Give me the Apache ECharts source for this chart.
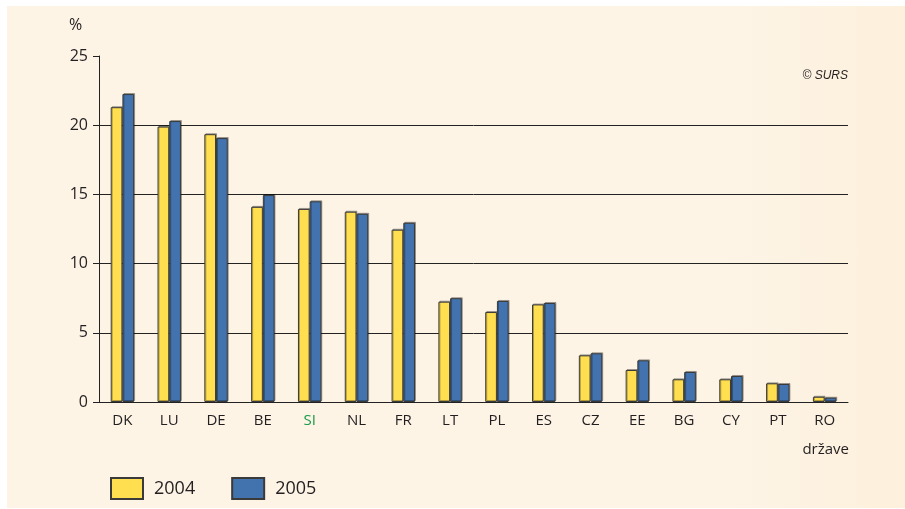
<!DOCTYPE html>
<html>
<head>
<meta charset="UTF-8">
<title>Chart</title>
<style>
    html, body { margin: 0; padding: 0; background: #fff; }
    #wrap { position: relative; width: 905px; height: 509px; }
    #bg { position: absolute; left: 7px; top: 6px; right: 0; bottom: 1px;
          background: linear-gradient(to right, #fdf4e6, #fdf4e6 80%, #fdf0dc); }
    #chart { position: absolute; left: 0; top: 0; width: 905px; height: 509px; }
</style>
</head>
<body>
<div id="wrap">
    <div id="bg"></div>
    <div id="chart"></div>
</div>
<script src="https://cdn.jsdelivr.net/npm/echarts@6/dist/echarts.min.js"></script>
<script>
    let countries = ['DK', 'LU', 'DE', 'BE', 'SI', 'NL', 'FR', 'LT', 'PL', 'ES', 'CZ', 'EE', 'BG', 'CY', 'PT', 'RO'];
    let values2004 = [21.3, 19.9, 19.35, 14.1, 13.95, 13.75, 12.45, 7.25, 6.5, 7.05, 3.37, 2.31, 1.64, 1.64, 1.35, 0.38];
    let values2005 = [22.25, 20.3, 19.07, 14.95, 14.5, 13.6, 12.95, 7.5, 7.3, 7.15, 3.52, 3.01, 2.17, 1.88, 1.3, 0.31];
    let yTicks = [0, 5, 10, 15, 20, 25];

    let font = '"Open Sans", sans-serif';
    let textColor = '#231f20';
    let chart = echarts.init(document.getElementById('chart'));

    function barSeries(name, data, color) {
        return {
            name: name,
            type: 'bar',
            data: data,
            barWidth: '25%',
            barGap: '0%',
            itemStyle: {
                color: color,
                borderColor: '#3a3a3a',
                borderWidth: 1,
                shadowColor: 'rgba(0,0,0,0.3)',
                shadowOffsetX: 1,
                shadowOffsetY: -1
            }
        };
    }

    chart.setOption({
        backgroundColor: 'transparent',
        animation: false,
        grid: { left: 99, right: 57, top: 56, bottom: 107 },
        graphic: [
            { type: 'text', left: 69, top: 17, style: { text: '%', font: '16px ' + font, fill: textColor } },
            { type: 'text', right: 57, top: 70, style: { text: '© SURS', font: 'italic 12px "Liberation Sans", sans-serif', fill: textColor } },
            { type: 'text', right: 56, top: 442, style: { text: 'države', font: '15px ' + font, fill: textColor } }
        ],
        legend: {
            left: 105,
            top: 472,
            itemWidth: 32,
            itemHeight: 21,
            itemGap: 36,
            icon: 'rect',
            textStyle: { fontFamily: font, fontSize: 18, color: textColor, padding: [0, 0, 0, 6] },
            data: ['2004', '2005']
        },
        xAxis: {
            type: 'category',
            data: countries,
            axisLine: { lineStyle: { color: '#222', width: 1 } },
            axisTick: { show: false },
            axisLabel: {
                interval: 0,
                margin: 11,
                fontFamily: font,
                fontSize: 15,
                color: textColor,
                formatter: function (v) { return v === 'SI' ? '{g|' + v + '}' : v; },
                rich: { g: { color: '#1a9a4a', fontFamily: font, fontSize: 15 } }
            }
        },
        yAxis: {
            type: 'value',
            min: yTicks[0],
            max: yTicks[yTicks.length - 1],
            interval: 5,
            axisLine: { show: true, lineStyle: { color: '#222', width: 1 } },
            axisTick: { show: true, length: 6, lineStyle: { color: '#222' } },
            axisLabel: { margin: 11, fontFamily: font, fontSize: 16, color: textColor },
            splitLine: {
                show: true,
                lineStyle: { color: ['#222', '#222', '#222', '#222', '#222', 'transparent'], width: 1 }
            }
        },
        series: [
            barSeries('2004', values2004, '#ffdf4f'),
            barSeries('2005', values2005, '#4273ae')
        ]
    });
</script>
</body>
</html>
